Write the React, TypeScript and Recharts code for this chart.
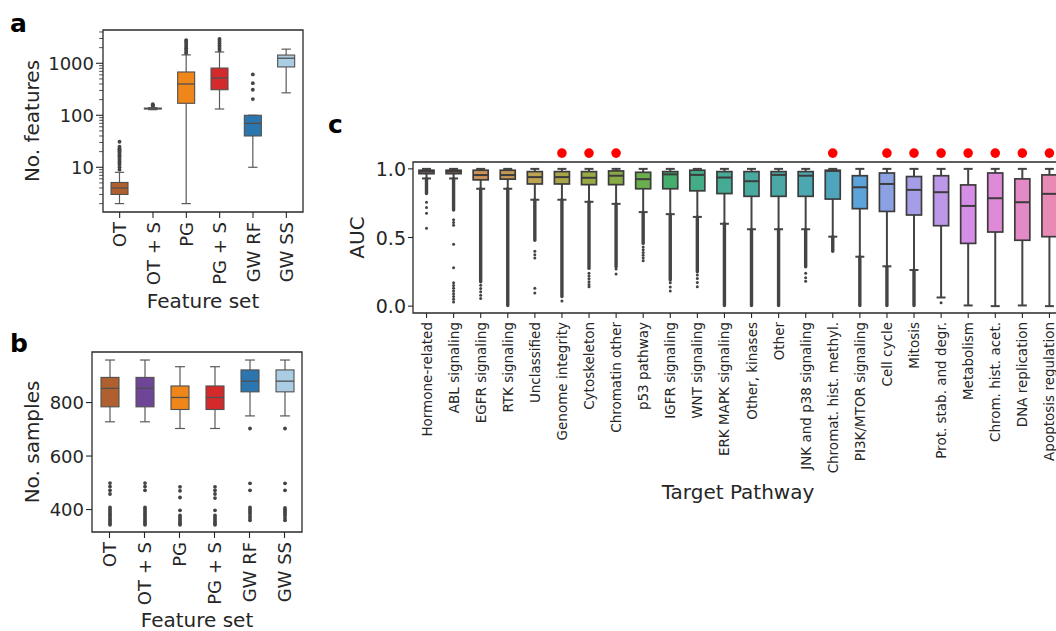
import React from 'react';
import { ComposedChart, Bar, XAxis, YAxis, ReferenceArea } from 'recharts';

const FONT = "'DejaVu Sans', 'Liberation Sans', sans-serif";
const TEXT = '#262626';

// ---------- Panel a: No. features (log scale) ----------
const featureSets = ['OT', 'OT + S', 'PG', 'PG + S', 'GW RF', 'GW SS'];
const aLowWhisker = [2, 128, 2, 132, 10, 270];
const aQ1 = [3, 132, 170, 310, 40, 850];
const aMedian = [4, 135, 400, 520, 70, 1250];
const aQ3 = [5.1, 137, 680, 810, 100, 1440];
const aHighWhisker = [8, 140, 1450, 1650, 100, 1870];
const aOutliers: number[][] = [
  [9, 10, 11, 12, 13, 14, 15, 16, 17, 18, 19, 20, 21, 22, 23, 25, 31],
  [145, 150, 156, 163],
  [1550, 1650, 1800, 1950, 2100, 2300, 2500, 2700, 2800],
  [1750, 1900, 2050, 2200, 2400, 2600, 2800, 2950],
  [205, 310, 415, 610],
  [],
];
const aMajorTicks = [10, 100, 1000];
const aMinorTicks = [2, 3, 4, 5, 6, 7, 8, 9, 20, 30, 40, 50, 60, 70, 80, 90, 200, 300, 400, 500, 600, 700, 800, 900, 2000, 3000, 4000];
const aDomain = [1.38, 4365];

// ---------- Panel b: No. samples ----------
const bLowWhisker = [728, 728, 703, 703, 750, 750];
const bQ1 = [784, 784, 774, 774, 840, 840];
const bMedian = [853, 853, 819, 819, 880, 880];
const bQ3 = [894, 894, 862, 862, 922, 922];
const bHighWhisker = [959, 959, 934, 934, 959, 959];
const bOutliers: number[][] = [
  [499, 486, 472, 458, 408, 400, 392, 385, 378, 370, 363, 356, 349, 343],
  [499, 486, 472, 408, 400, 392, 385, 378, 370, 363, 356, 349, 343],
  [485, 470, 445, 397, 378, 370, 362, 355, 348, 343],
  [485, 472, 458, 443, 397, 378, 370, 362, 355, 348, 343],
  [703, 498, 472, 408, 400, 392, 385, 376, 368, 360],
  [703, 498, 472, 406, 400, 393, 386, 378, 368, 360],
];
const bTicks = [400, 600, 800];
const bDomain = [316, 989];

// ---------- Panel c: AUC by target pathway ----------
const pathways = [
  'Hormone-related', 'ABL signaling', 'EGFR signaling', 'RTK signaling', 'Unclassified',
  'Genome integrity', 'Cytoskeleton', 'Chromatin other', 'p53 pathway', 'IGFR signaling',
  'WNT signaling', 'ERK MAPK signaling', 'Other, kinases', 'Other', 'JNK and p38 signaling',
  'Chromat. hist. methyl.', 'PI3K/MTOR signaling', 'Cell cycle', 'Mitosis', 'Prot. stab. and degr.',
  'Metabolism', 'Chrom. hist. acet.', 'DNA replication', 'Apoptosis regulation',
];
const cHighWhisker = [1, 1, 1, 1, 1, 1, 1, 1, 1, 1, 1, 1, 1, 1, 1, 1, 1, 1, 1, 1, 1, 1, 1, 1];
const cQ3 = [0.99, 0.99, 0.99, 0.99, 0.98, 0.98, 0.98, 0.985, 0.975, 0.98, 0.99, 0.98, 0.98, 0.98, 0.98, 0.99, 0.95, 0.97, 0.944, 0.95, 0.883, 0.97, 0.927, 0.956];
const cMedian = [0.98, 0.98, 0.955, 0.955, 0.94, 0.94, 0.935, 0.95, 0.925, 0.96, 0.956, 0.937, 0.91, 0.956, 0.95, 0.985, 0.866, 0.89, 0.847, 0.83, 0.73, 0.786, 0.757, 0.818];
const cQ1 = [0.965, 0.965, 0.92, 0.925, 0.89, 0.89, 0.885, 0.885, 0.855, 0.855, 0.84, 0.82, 0.8, 0.8, 0.8, 0.78, 0.71, 0.69, 0.664, 0.586, 0.457, 0.54, 0.48, 0.506];
const cLowWhisker = [0.93, 0.93, 0.855, 0.855, 0.775, 0.775, 0.76, 0.745, 0.685, 0.67, 0.65, 0.6, 0.56, 0.56, 0.56, 0.506, 0.36, 0.29, 0.263, 0.063, 0.005, 0.0, 0.005, 0.0];
// lowest value reached by the densely packed outliers (drawn as a continuous column)
const cDenseOutlierBottom: (number | null)[] = [0.82, 0.7, 0.178, 0.005, 0.48, 0.07, 0.275, 0.287, 0.457, 0.19, 0.25, 0.005, 0.005, 0.005, 0.287, 0.4, 0.005, 0.005, 0.005, null, null, null, null, null];
const cSparseOutliers: number[][] = [
  [0.757, 0.718, 0.677, 0.567],
  [0.63, 0.61, 0.59, 0.45, 0.28, 0.17, 0.15, 0.13, 0.11, 0.09, 0.07, 0.05, 0.03],
  [0.153, 0.129, 0.105, 0.08, 0.056],
  [],
  [0.4, 0.375, 0.35, 0.13, 0.095],
  [0.037],
  [0.24, 0.22, 0.2, 0.178, 0.158, 0.141],
  [0.27, 0.235],
  [0.43, 0.41, 0.39, 0.37, 0.35, 0.33],
  [0.17, 0.14, 0.11],
  [0.226, 0.202, 0.173, 0.141],
  [], [], [],
  [0.239, 0.207, 0.182],
  [], [], [], [],
  [0.024],
  [], [], [], [],
];
const cSignificant = [false, false, false, false, false, true, true, true, false, false, false, false, false, false, false, true, false, true, true, true, true, true, true, true];
const cTicks = [0, 0.5, 1];
const cDomain = [-0.05, 1.05];
const SIG_LEVEL = 1.115;

// ---------- styles ----------
const featureColors = ['#b0602e', '#6e4597', '#ee8619', '#d52a2c', '#2b76ae', '#abcde3'];
const pathwayColors = [
  '#d9828f', '#d98469', '#cf915a', '#c39856', '#bba452', '#a9a64a', '#9aa846', '#88ab45',
  '#6aae4d', '#45ad6e', '#44ac86', '#46ab94', '#48aa9e', '#4aa9a7', '#4ca8b0', '#4fa5bc',
  '#5ba3d8', '#8ca1e2', '#a69de7', '#bd98e8', '#d58de5', '#de8ad8', '#e38ac6', '#e78ab5',
];

type Row = {
  name: string;
  range: [number, number];
  lo: number; q1: number; med: number; q3: number; hi: number;
  outliers: number[];
  dense: number | null;
  sig: boolean;
};

function buildRows(
  names: string[], lo: number[], q1: number[], med: number[], q3: number[], hi: number[],
  outliers: number[][], dense?: (number | null)[], sig?: boolean[],
): Row[] {
  return names.map((name, i) => ({
    name,
    range: [lo[i], hi[i]] as [number, number],
    lo: lo[i], q1: q1[i], med: med[i], q3: q3[i], hi: hi[i],
    outliers: outliers[i],
    dense: dense ? dense[i] : null,
    sig: sig ? sig[i] : false,
  }));
}

const aRows = buildRows(featureSets, aLowWhisker, aQ1, aMedian, aQ3, aHighWhisker, aOutliers);
const bRows = buildRows(featureSets, bLowWhisker, bQ1, bMedian, bQ3, bHighWhisker, bOutliers);
const cRows = buildRows(pathways, cLowWhisker, cQ1, cMedian, cQ3, cHighWhisker, cSparseOutliers, cDenseOutlierBottom, cSignificant);

type BoxStyle = {
  log: boolean; colors: string[]; edge: string; whisker: string; lw: number; boxLw: number;
  medLw: number; capFrac: number; dotR: number; dotColor: string; denseW: number; sigR: number;
};

const makeBoxShape = (st: BoxStyle, rows: Row[]) => (props: any) => {
  const { x, y, width, height, index } = props;
  const row: Row = props.payload && props.payload.q1 !== undefined ? props.payload : rows[index];
  const f = st.log ? (v: number) => Math.log10(v) : (v: number) => v;
  const top = f(row.hi);
  const bot = f(row.lo);
  const py = (v: number) => y + ((top - f(v)) / (top - bot)) * height;
  const cx = x + width / 2;
  const capHalf = (width * st.capFrac) / 2;
  const color = st.colors[index % st.colors.length];
  const yQ3 = py(row.q3);
  const yQ1 = py(row.q1);
  return (
    <g>
      {row.dense !== null && (
        <line x1={cx} x2={cx} y1={py(row.lo)} y2={py(row.dense)} stroke={st.dotColor} strokeWidth={st.denseW} strokeLinecap="round" />
      )}
      {row.outliers.map((v, k) => (
        <circle key={k} cx={cx} cy={py(v)} r={st.dotR} fill={st.dotColor} />
      ))}
      <line x1={cx} x2={cx} y1={yQ3} y2={py(row.hi)} stroke={st.whisker} strokeWidth={st.lw} />
      <line x1={cx} x2={cx} y1={yQ1} y2={py(row.lo)} stroke={st.whisker} strokeWidth={st.lw} />
      <line x1={cx - capHalf} x2={cx + capHalf} y1={py(row.hi)} y2={py(row.hi)} stroke={st.whisker} strokeWidth={st.lw} />
      <line x1={cx - capHalf} x2={cx + capHalf} y1={py(row.lo)} y2={py(row.lo)} stroke={st.whisker} strokeWidth={st.lw} />
      <rect x={x} y={yQ3} width={width} height={Math.max(yQ1 - yQ3, 0.8)} fill={color} stroke={st.edge} strokeWidth={st.boxLw} />
      <line x1={x} x2={x + width} y1={py(row.med)} y2={py(row.med)} stroke={st.edge} strokeWidth={st.medLw} />
      {row.sig && <circle cx={cx} cy={py(SIG_LEVEL)} r={st.sigR} fill="#ff0000" />}
    </g>
  );
};

const abStyle: BoxStyle = {
  log: false, colors: featureColors, edge: '#505050', whisker: '#5a5a5a', lw: 1.2, boxLw: 1.1,
  medLw: 1.3, capFrac: 0.55, dotR: 1.9, dotColor: '#444', denseW: 3, sigR: 0,
};
const aShape = makeBoxShape({ ...abStyle, log: true }, aRows);
const bShape = makeBoxShape(abStyle, bRows);
const cShape = makeBoxShape({
  log: false, colors: pathwayColors, edge: '#3c3c3c', whisker: '#444', lw: 2, boxLw: 1.7,
  medLw: 2, capFrac: 0.6, dotR: 1.5, dotColor: '#444', denseW: 3.4, sigR: 4.8,
}, cRows);

const XTick = (p: any) => {
  const { x, y, payload, fontSize, len, gap } = p;
  const ty = y + len + gap;
  return (
    <g>
      <line x1={x} x2={x} y1={y} y2={y + len} stroke={TEXT} strokeWidth={1.1} />
      <text x={x} y={ty} transform={`rotate(-90 ${x} ${ty})`} textAnchor="end" dominantBaseline="central"
        fontSize={fontSize} fontFamily={FONT} fill={TEXT}>{payload.value}</text>
    </g>
  );
};

const YTick = (p: any) => {
  const { x, y, payload, fontSize, len, gap, majors, fmt } = p;
  const v = payload.value;
  const major = !majors || majors.includes(v);
  const l = major ? len : len * 0.55;
  return (
    <g>
      <line x1={x - l} x2={x} y1={y} y2={y} stroke={TEXT} strokeWidth={major ? 1.1 : 0.8} />
      {major && (
        <text x={x - len - gap} y={y} textAnchor="end" dominantBaseline="central" fontSize={fontSize}
          fontFamily={FONT} fill={TEXT}>{fmt ? fmt(v) : String(v)}</text>
      )}
    </g>
  );
};

const frame = { fill: 'none', fillOpacity: 0, stroke: '#2a2a2a', strokeWidth: 1.3 };

const App = () => (
  <div style={{ position: 'absolute', left: 0, top: 0, width: 1056, height: 631, overflow: 'hidden', background: '#fff' }}>
    <div style={{ position: 'absolute', left: 0, top: 0 }}>
      <ComposedChart width={320} height={320} data={aRows} margin={{ top: 30, right: 17, bottom: 8, left: 0 }}>
        <XAxis dataKey="name" type="category" height={100} interval={0} axisLine={false} tickLine={false}
          tickSize={0} tickMargin={0} tick={(p: any) => <XTick {...p} fontSize={18} len={6} gap={4} />} />
        <YAxis type="number" scale="log" domain={aDomain} ticks={[...aMajorTicks, ...aMinorTicks]} interval={0}
          width={103} axisLine={false} tickLine={false} tickSize={0} tickMargin={0}
          tick={(p: any) => <YTick {...p} fontSize={18} len={7} gap={2} majors={aMajorTicks} />} />
        <ReferenceArea y1={aDomain[0]} y2={aDomain[1]} {...frame} />
        <Bar dataKey="range" barSize={17} shape={aShape} isAnimationActive={false} />
      </ComposedChart>
    </div>
    <div style={{ position: 'absolute', left: 0, top: 322 }}>
      <ComposedChart width={320} height={309} data={bRows} margin={{ top: 30, right: 18, bottom: 9, left: 0 }}>
        <XAxis dataKey="name" type="category" height={90} interval={0} axisLine={false} tickLine={false}
          tickSize={0} tickMargin={0} tick={(p: any) => <XTick {...p} fontSize={18} len={6} gap={4} />} />
        <YAxis type="number" domain={bDomain} ticks={bTicks} interval={0} width={92} axisLine={false}
          tickLine={false} tickSize={0} tickMargin={0}
          tick={(p: any) => <YTick {...p} fontSize={18} len={6} gap={2} />} />
        <ReferenceArea y1={bDomain[0]} y2={bDomain[1]} {...frame} />
        <Bar dataKey="range" barSize={18} shape={bShape} isAnimationActive={false} />
      </ComposedChart>
    </div>
    <div style={{ position: 'absolute', left: 330, top: 100 }}>
      <ComposedChart width={760} height={420} data={cRows} margin={{ top: 62, right: 27, bottom: 7, left: 0 }}>
        <XAxis dataKey="name" type="category" height={200} interval={0} axisLine={false} tickLine={false}
          tickSize={0} tickMargin={0} tick={(p: any) => <XTick {...p} fontSize={13.5} len={5} gap={4} />} />
        <YAxis type="number" domain={cDomain} ticks={cTicks} interval={0} width={83} axisLine={false}
          tickLine={false} tickSize={0} tickMargin={0}
          tick={(p: any) => <YTick {...p} fontSize={19} len={5} gap={2} fmt={(v: number) => v.toFixed(1)} />} />
        <ReferenceArea y1={cDomain[0]} y2={cDomain[1]} {...frame} />
        <Bar dataKey="range" barSize={15} shape={cShape} isAnimationActive={false} />
      </ComposedChart>
    </div>
    <svg width={1056} height={631} style={{ position: 'absolute', left: 0, top: 0, pointerEvents: 'none' }}
      fontFamily={FONT} fill={TEXT}>
      <text x={10} y={32} fontSize={25} fontWeight="bold" fill="#000">a</text>
      <text x={10} y={352} fontSize={25} fontWeight="bold" fill="#000">b</text>
      <text x={328} y={133} fontSize={25} fontWeight="bold" fill="#000">c</text>
      <text x={32} y={121} fontSize={20} textAnchor="middle" dominantBaseline="central" transform="rotate(-90 32 121)">No. features</text>
      <text x={203} y={308} fontSize={20} textAnchor="middle">Feature set</text>
      <text x={32} y={442} fontSize={20} textAnchor="middle" dominantBaseline="central" transform="rotate(-90 32 442)">No. samples</text>
      <text x={197} y={627} fontSize={20} textAnchor="middle">Feature set</text>
      <text x={357} y={237.5} fontSize={20} textAnchor="middle" dominantBaseline="central" transform="rotate(-90 357 237.5)">AUC</text>
      <text x={738} y={499} fontSize={20} textAnchor="middle">Target Pathway</text>
    </svg>
  </div>
);

export default App;
